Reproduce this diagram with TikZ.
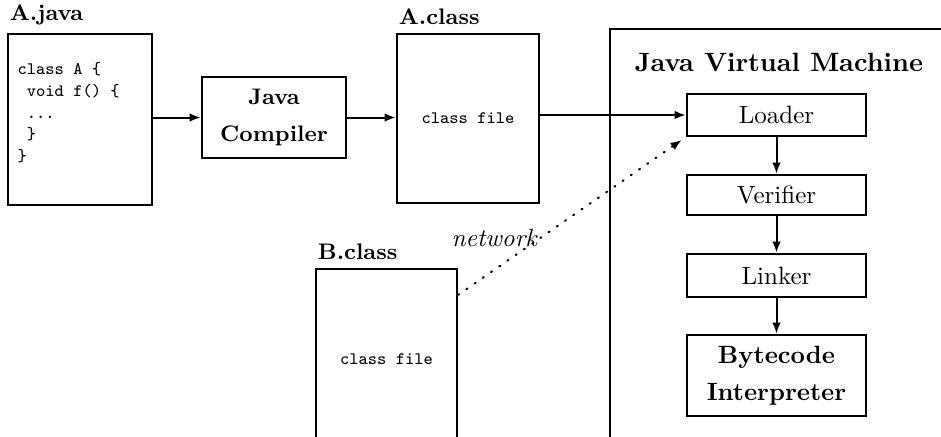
\documentclass[tikz,border=0pt]{standalone}
\usepackage{tikz}
\usetikzlibrary{arrows.meta,calc}

\begin{document}
\begin{tikzpicture}[x=0.4pt,y=-0.4pt,
  box/.style={draw,line width=0.9pt,inner sep=0pt},
  stage/.style={draw,line width=0.9pt,inner sep=0pt,minimum width=71.6pt},
  flow/.style={line width=0.8pt,-{Latex[length=4.5pt,width=3.4pt]}},
  fname/.style={font=\small\bfseries,inner sep=1pt,yshift=2pt},
  code/.style={font=\scriptsize\ttfamily}]
\useasboundingbox (0,0) rectangle (941,436);

% source file and compiler
\node[box,minimum width=57.6pt,minimum height=68.4pt] (ajava) at (80,119.5) {};
\node[code,anchor=north west,align=left,inner sep=0pt] (src) at (17,62)
  {class A \{\\[0.7pt]~void f() \{\\[0.7pt]~...\\[0.7pt]~\}\\[0.7pt]\}};
\node[fname,anchor=south west] (ajavaname) at (ajava.north west) {A.java};
\node[box,font=\small\bfseries,align=center,minimum width=57.6pt,minimum height=32.4pt] (javac) at (274,117.5) {Java\\[3.8pt]Compiler};

% class files
\node[box,code,minimum width=56.8pt,minimum height=67.6pt] (aclass) at (468,118.5) {class file};
\node[fname,anchor=south west] (aclassname) at (aclass.north west) {A.class};
\node[box,code,minimum width=56.4pt,minimum height=72.4pt] (bclass) at (386.5,359.5) {class file};
\node[fname,anchor=south west] (bclassname) at (bclass.north west) {B.class};

% virtual machine
\node[box,minimum width=140pt,minimum height=172.4pt] (jvm) at (785,244.5) {};
\node[font=\fontsize{10.6}{13}\selectfont\bfseries] (jvmname) at (779,62) {Java Virtual Machine};
\node[stage,minimum height=16.8pt] (loader) at (776.5,115) {Loader};
\node[stage,minimum height=16pt] (verifier) at (776.5,195) {Verifier};
\node[stage,minimum height=17.2pt] (linker) at (776.5,275.5) {Linker};
\node[stage,font=\bfseries,align=center,minimum height=32.4pt] (interp) at (776.5,375.5) {Bytecode\\[2.8pt]Interpreter};

\draw[flow] (ajava.east |- javac.west) -- (javac.west);
\draw[flow] (javac.east) -- (aclass.west |- javac.east);
\draw[flow] (aclass.east |- loader.west) -- (loader.west);
\draw[flow] (loader) -- (verifier);
\draw[flow] (verifier) -- (linker);
\draw[flow] (linker) -- (interp);

\coordinate (netsrc) at ($(bclass.north east)+(0,27)$);
\draw[flow,dash pattern=on 0.5pt off 3.5pt,line cap=round,shorten >=2pt] (netsrc) --
  node[pos=0.36,anchor=east,inner sep=0.5pt] (netname) {\textit{network}} (loader.south west);
\end{tikzpicture}
\end{document}
